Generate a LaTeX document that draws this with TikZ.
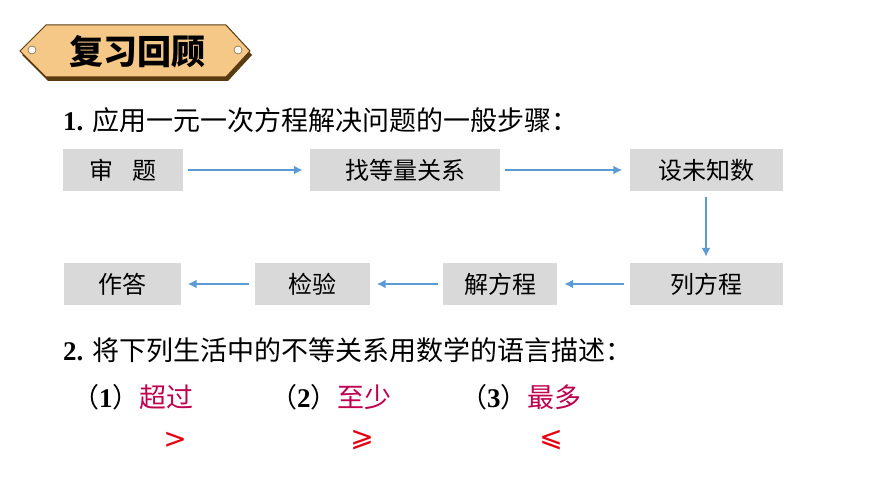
\documentclass[tikz,border=0pt]{standalone}
\usepackage{fontspec}
\setmainfont{Liberation Serif}
\newfontfamily\cjk{Noto Sans CJK SC}
\newfontfamily\sym{DejaVu Sans}
\definecolor{boxgray}{HTML}{D9D9D9}
\definecolor{arrblue}{HTML}{5B9BD5}
\definecolor{wordred}{HTML}{C0004F}
\definecolor{symred}{HTML}{E60012}
\definecolor{badge}{HTML}{F5C888}
\definecolor{badgeedge}{HTML}{5A3A10}
\begin{document}
\begin{tikzpicture}[x=1pt,y=-1pt,
  stepbox/.style={fill=boxgray,minimum height=42pt,inner sep=0pt,font=\cjk\fontsize{24}{24}\selectfont},
  arr/.style={draw=arrblue,line width=1.8pt,-{Latex[length=9pt,width=9pt]}},
  txt/.style={anchor=west,inner sep=0pt,font=\fontsize{27}{27}\selectfont}]
\usetikzlibrary{arrows.meta}
\useasboundingbox (0,0) rectangle (870,489);
% badge
\fill[badgeedge] (22,55) -- (48,30) -- (228,30) -- (252,55) -- (228,81) -- (48,81) -- cycle;
\draw[badgeedge,line width=1pt,fill=badge] (20,51) -- (46,25) -- (226,25) -- (250,51) -- (226,77) -- (46,77) -- cycle;
\draw[badgeedge,fill=white] (32,50) circle (4);
\draw[badgeedge,fill=white] (238,50) circle (4);
\node[font=\cjk\bfseries\fontsize{34}{34}\selectfont] (title) at (137,52) {复习回顾};
% heading 1
\node[txt] (h1) at (63,120) {\textbf{1.} {\cjk 应用一元一次方程解决问题的一般步骤：}};
% boxes row 1
\node[stepbox,minimum width=120pt] (a) at (123,170) {审\hspace{0.8em}题};
\node[stepbox,minimum width=190pt] (b) at (405,170) {找等量关系};
\node[stepbox,minimum width=153pt] (c) at (706,170) {设未知数};
% row 2
\node[stepbox,minimum width=153pt] (d) at (706,284) {列方程};
\node[stepbox,minimum width=114pt] (e) at (500,284) {解方程};
\node[stepbox,minimum width=115pt] (f) at (312,284) {检验};
\node[stepbox,minimum width=117pt] (g) at (122,284) {作答};
\draw[arr] ([xshift=5pt]a.east) -- ([xshift=-7pt]b.west);
\draw[arr] ([xshift=5pt]b.east) -- ([xshift=-7pt]c.west);
\draw[arr] ([yshift=-6pt]c.south) -- ([yshift=6pt]d.north);
\draw[arr] ([xshift=-5pt]d.west) -- ([xshift=7pt]e.east);
\draw[arr] ([xshift=-5pt]e.west) -- ([xshift=7pt]f.east);
\draw[arr] ([xshift=-5pt]f.west) -- ([xshift=7pt]g.east);
% heading 2
\node[txt] (h2) at (63,350) {\textbf{2.} {\cjk 将下列生活中的不等关系用数学的语言描述：}};
\node[txt] (q1) at (72,397) {{\cjk （}\textbf{1}{\cjk ）\textcolor{wordred}{超过}}};
\node[txt] (q2) at (270,397) {{\cjk （}\textbf{2}{\cjk ）\textcolor{wordred}{至少}}};
\node[txt] (q3) at (460,397) {{\cjk （}\textbf{3}{\cjk ）\textcolor{wordred}{最多}}};
\node[font=\sym\fontsize{28}{28}\selectfont,text=symred] (s1) at (175,440) {>};
\node[font=\sym\fontsize{28}{28}\selectfont,text=symred] (s2) at (362,440) {⩾};
\node[font=\sym\fontsize{28}{28}\selectfont,text=symred] (s3) at (551,440) {⩽};
\end{tikzpicture}
\end{document}
